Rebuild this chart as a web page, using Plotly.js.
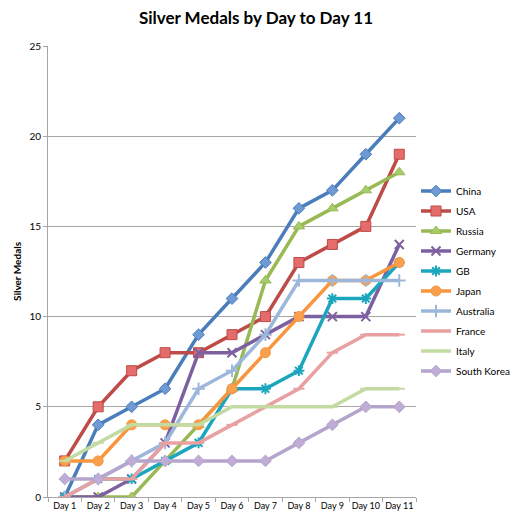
<!DOCTYPE html>
<html><head><meta charset="utf-8">
<script src="https://cdn.plot.ly/plotly-3.0.1.min.js"></script>
<style>html,body{margin:0;padding:0;background:#fff;}#chart{width:512px;height:527px;}</style>
</head><body><div id="chart"></div>
<script>
var days = ["Day 1","Day 2","Day 3","Day 4","Day 5","Day 6","Day 7","Day 8","Day 9","Day 10","Day 11"];
var china     = [0,4,5,6,9,11,13,16,17,19,21];
var usa       = [2,5,7,8,8,9,10,13,14,15,19];
var russia    = [0,0,0,2,4,6,12,15,16,17,18];
var germany   = [0,0,1,3,8,8,9,10,10,10,14];
var gb        = [0,1,1,2,3,6,6,7,11,11,13];
var japan     = [2,2,4,4,4,6,8,10,12,12,13];
var australia = [0,1,2,3,6,7,9,12,12,12,12];
var france    = [0,1,1,3,3,4,5,6,8,9,9];
var italy     = [2,3,4,4,4,5,5,5,5,6,6];
var skorea    = [1,1,2,2,2,2,2,3,4,5,5];

var FONT = "Lato, Liberation Sans, sans-serif";

function tr(name, y, color, fill, symbol, size, lw){
  return {
    type:"scatter", mode:"lines+markers", name:name, x:days, y:y,
    legendgroup:name,
    line:{color:color, width:3.5},
    marker:{symbol:symbol, size:size, color:fill, line:{color:color, width:lw}}
  };
}

var data = [
  tr("China", china, "#4A7EBB", "#6F9AD3", "diamond", 9, 1),
  tr("USA", usa, "#BE4B48", "#E46C6A", "square", 10, 1),
  tr("Russia", russia, "#98B954", "#A9CC6A", "triangle-up", 10, 1),
  tr("Germany", germany, "#7D60A0", "#7D60A0", "x-thin-open", 9, 2),
  tr("GB", gb, "#1CA6BD", "#1CA6BD", "asterisk-open", 9, 2),
  tr("Japan", japan, "#F7963E", "#F9A04F", "circle", 10, 1),
  tr("Australia", australia, "#9DB7DB", "#9DB7DB", "cross-thin-open", 9, 2),
  tr("France", france, "#E8A1A0", "#E8A1A0", "line-ew-open", 8, 2),
  tr("Italy", italy, "#C3DBA2", "#C3DBA2", "line-ew-open", 8, 2),
  tr("South Korea", skorea, "#B5A5CD", "#BFADD6", "diamond", 9, 1)
];

var layout = {
  width:512, height:527,
  paper_bgcolor:"#fff", plot_bgcolor:"#fff",
  margin:{l:48, r:79, t:46, b:30},
  font:{family:FONT, size:10, color:"#000"},
  title:{text:"<b>Silver Medals by Day to Day 11</b>", font:{family:FONT, size:17, color:"#000"},
         x:0.5, xref:"container", y:1-18/527, yanchor:"middle"},
  xaxis:{type:"category", range:[-0.5,10.5], showgrid:false, showline:true, linecolor:"#A6A6A6", linewidth:1,
         ticks:"outside", tickson:"boundaries", ticklen:4, tickcolor:"#A6A6A6", tickangle:0, automargin:false,
         tickfont:{family:FONT, size:9, color:"#000"}, fixedrange:true, zeroline:false},
  yaxis:{range:[0,25], dtick:5, showgrid:true, gridcolor:"#A6A6A6", gridwidth:1, showline:true, automargin:false,
         linecolor:"#A6A6A6", ticks:"outside", ticklen:4, tickcolor:"#A6A6A6", zeroline:false,
         tickfont:{family:FONT, size:10, color:"#000"},
         title:{text:"<b>Silver Medals</b>", font:{family:FONT, size:10, color:"#000"}, standoff:5}},
  legend:{xref:"container", yref:"container", x:416/512, xanchor:"left", y:1-176.5/527, yanchor:"top",
          bgcolor:"rgba(0,0,0,0)",
          font:{family:FONT, size:10, color:"#000"}, itemwidth:30, tracegroupgap:1},
  showlegend:true
};
Plotly.newPlot("chart", data, layout, {displayModeBar:false, staticPlot:true});
</script></body></html>
